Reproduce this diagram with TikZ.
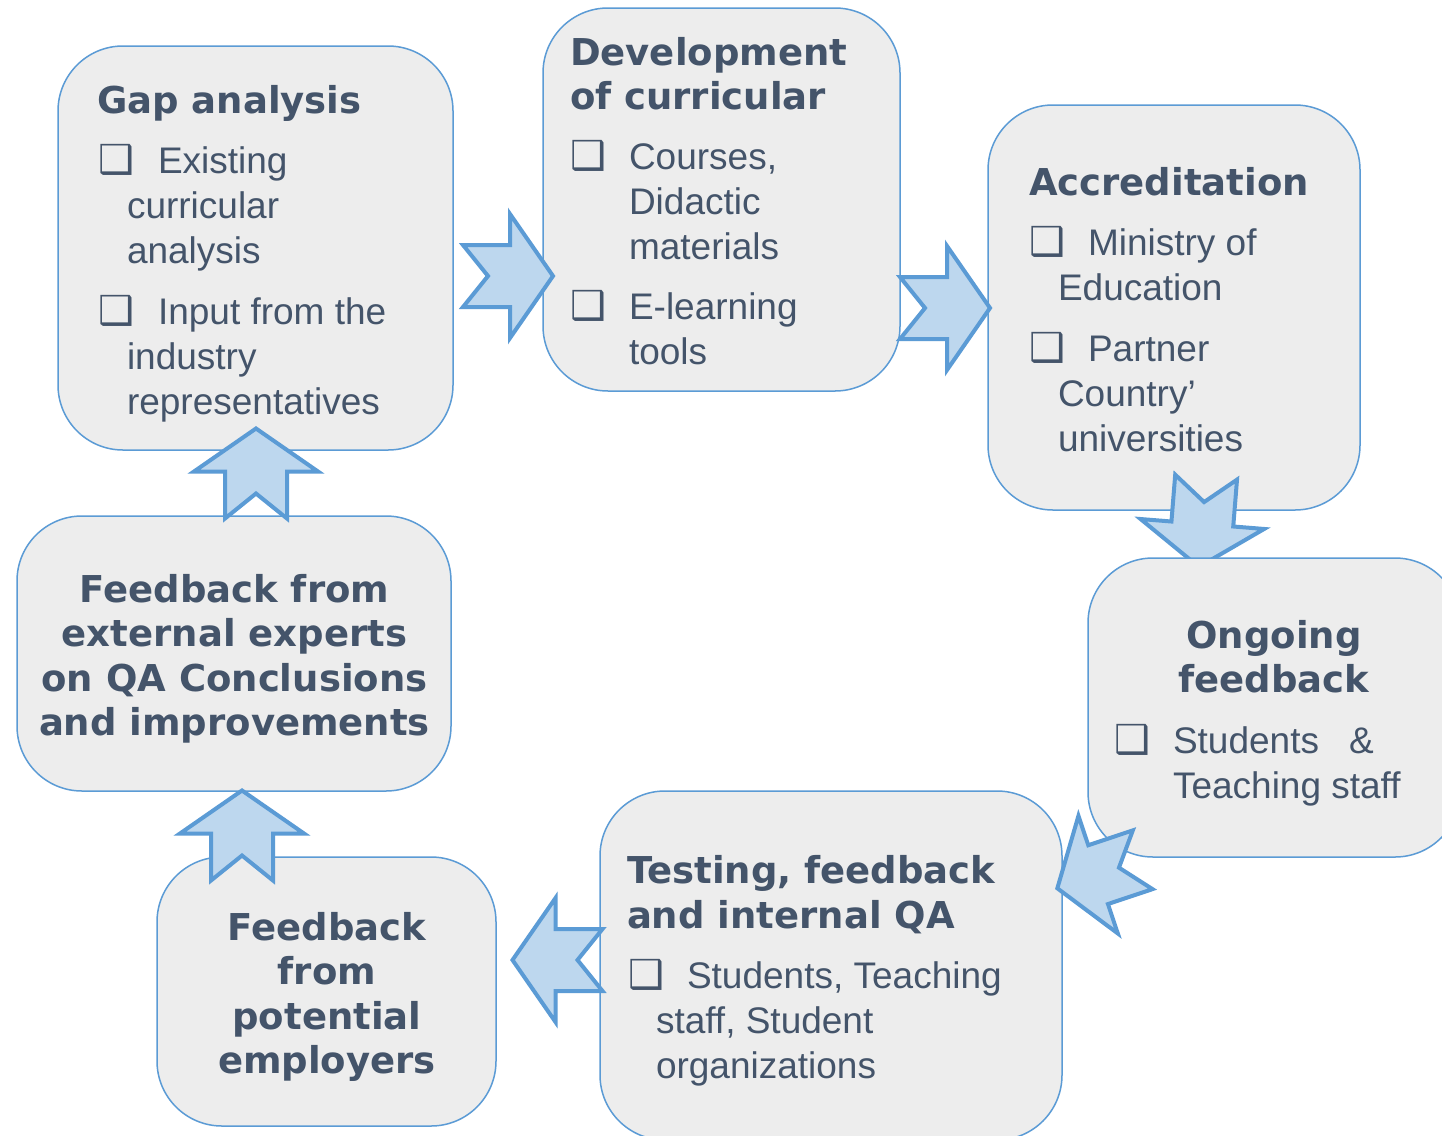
\documentclass[tikz,border=0pt]{standalone}
\usepackage{fontspec}
\setmainfont{Liberation Sans}
\newfontfamily\hdfont{DejaVu Sans}
\newfontfamily\cbfont{DejaVu Sans}
\definecolor{txtc}{HTML}{44546A}
\definecolor{boxfill}{HTML}{EDEDED}
\definecolor{boxline}{HTML}{5B9BD5}
\definecolor{arrfill}{HTML}{BDD7EE}
\definecolor{arrline}{HTML}{5B9BD5}
\newcommand\hd{\hdfont\bfseries}
\newcommand\cbx[1]{\makebox[#1][l]{\hspace*{-2pt}\cbfont\bfseries\fontsize{40}{45}\selectfont ❑}}
\newcommand\flowarrow[3]{%
  \draw[arr, shift={(#1,#2)}, rotate=#3]
    (-45,-31) -- (2,-31) -- (2,-62) -- (45,0) -- (2,62) -- (2,31) -- (-45,31) -- (-20,0) -- cycle;}
\begin{document}
\begin{tikzpicture}[x=1pt,y=-1pt,
  box/.style={draw=boxline, fill=boxfill, line width=1.5pt, rounded corners=65pt, inner sep=0pt, outer sep=0pt},
  txt/.style={inner sep=0pt, outer sep=0pt, text=txtc, font=\fontsize{37}{45}\selectfont, align=left, anchor=north west},
  ctxt/.style={inner sep=0pt, outer sep=0pt, text=txtc, font=\hd\fontsize{37}{44.5}\selectfont, align=center, anchor=north},
  arr/.style={draw=arrline, fill=arrfill, line width=4pt, line join=miter}]
\useasboundingbox (0,0) rectangle (1442,1135);
\clip (0,0) rectangle (1442,1135);
\fill[white] (0,0) rectangle (1442,1135);
% boxes
\node[box, minimum width=395pt, minimum height=404pt] (gap) at (255.5,248) {};
\node[box, minimum width=357pt, minimum height=383pt] (dev) at (721.5,199.5) {};
\node[box, minimum width=372pt, minimum height=405pt] (accr) at (1174,307.5) {};
\node[box, minimum width=434pt, minimum height=275pt] (ext) at (234,653.5) {};
\node[box, minimum width=339pt, minimum height=269pt] (emp) at (326.5,991.5) {};
\node[box, minimum width=462pt, minimum height=349pt] (test) at (831,965.5) {};
% arrows
\flowarrow{508}{276}{0}
\flowarrow{945}{308}{0}
\flowarrow{1202.5}{522}{-94.6}
\node[box, minimum width=372pt, minimum height=299pt] (ong) at (1274,707.5) {};
\flowarrow{1100}{874}{198.5}
\flowarrow{557.5}{960}{180}
\flowarrow{242}{835.5}{90}
\flowarrow{256}{473.5}{90}
% texts
\node[txt] (gapT) at (97,81.5) {\strut{\hd Gap analysis}\\[15pt]
  \hspace*{3pt}\cbx{58pt}Existing\\
  \hspace*{30pt}curricular\\
  \hspace*{30pt}analysis\\[16pt]
  \hspace*{3pt}\cbx{58pt}Input from the\\
  \hspace*{30pt}industry\\
  \hspace*{30pt}representatives};
\node[txt] (devT) at (570,33.5) {\strut{\hd Development}\\[-1pt]
  {\hd of curricular}\\[15pt]
  \hspace*{2pt}\cbx{57pt}Courses,\\
  \hspace*{59pt}Didactic\\
  \hspace*{59pt}materials\\[15pt]
  \hspace*{2pt}\cbx{57pt}E-learning\\
  \hspace*{59pt}tools};
\node[txt] (accrT) at (1029,163.5) {\strut{\hd Accreditation}\\[15pt]
  \hspace*{2pt}\cbx{57pt}Ministry of\\
  \hspace*{29pt}Education\\[16pt]
  \hspace*{2pt}\cbx{57pt}Partner\\
  \hspace*{29pt}Country’\\
  \hspace*{29pt}universities};
\node[ctxt] (ongH) at (1274,616.85) {\strut Ongoing\\feedback};
\node[txt] (ongT) at (1116,721.5) {\strut\cbx{57pt}Students\hspace*{30pt}\&\\
  \hspace*{57pt}Teaching staff};
\node[txt] (testT) at (627,851.5) {\strut{\hd Testing, feedback}\\
  {\hd and internal QA}\\[15pt]
  \hspace*{3pt}\cbx{57pt}Students, Teaching\\
  \hspace*{29pt}staff, Student\\
  \hspace*{29pt}organizations};
\node[ctxt] (empT) at (327,908.85) {\strut Feedback\\from\\potential\\employers};
\node[ctxt] (extT) at (234.5,570.85) {\strut Feedback from\\external experts\\on QA Conclusions\\and improvements};
\end{tikzpicture}
\end{document}
